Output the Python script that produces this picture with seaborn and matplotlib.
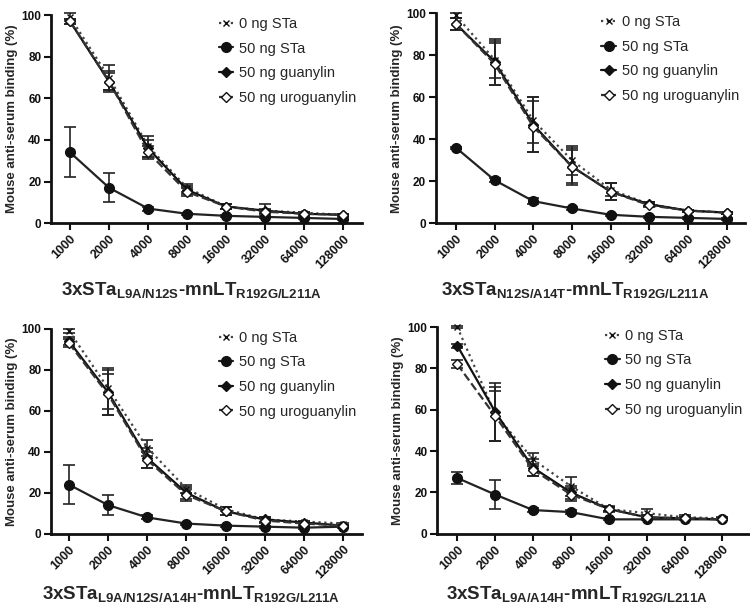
import numpy as np
import pandas as pd
import matplotlib
matplotlib.use('Agg')
import matplotlib.pyplot as plt
import seaborn as sns

sns.set_style('ticks')
plt.rcParams['font.family'] = ['Liberation Sans', 'DejaVu Sans']
plt.rcParams['mathtext.fontset'] = 'custom'
plt.rcParams['mathtext.bf'] = 'Liberation Sans:bold'
plt.rcParams['mathtext.rm'] = 'Liberation Sans:bold'
plt.rcParams['mathtext.default'] = 'bf'

dilutions = ['1000', '2000', '4000', '8000', '16000', '32000', '64000', '128000']
series = ['0 ng STa', '50 ng STa', '50 ng guanylin', '50 ng uroguanylin']

titles = [r'3xSTa$_{L9A/N12S}$-mnLT$_{R192G/L211A}$',
          r'3xSTa$_{N12S/A14T}$-mnLT$_{R192G/L211A}$',
          r'3xSTa$_{L9A/N12S/A14H}$-mnLT$_{R192G/L211A}$',
          r'3xSTa$_{L9A/A14H}$-mnLT$_{R192G/L211A}$']

# panel 1: L9A/N12S
p1_sta0 = [99, 70, 37, 17, 8, 6, 5, 4]
p1_sta0_err = [2, 6, 5, 2, 1, 1, 0.5, 0.5]
p1_sta50 = [34, 17, 7, 4.5, 3.5, 3, 2.5, 2]
p1_sta50_err = [12, 7, 1, 0.5, 0.5, 0.5, 0.5, 0.5]
p1_guan = [97, 68, 36, 16, 8, 6, 4.5, 4]
p1_guan_err = [1, 5, 4, 2, 1, 3, 1, 0.5]
p1_urog = [97, 68, 34, 15, 8, 5.5, 4.5, 4]
p1_urog_err = [1, 4, 3, 2, 1, 1, 0.5, 0.5]

# panel 2: N12S/A14T
p2_sta0 = [99, 78, 49, 30, 16, 9, 6, 5]
p2_sta0_err = [1, 9, 11, 7, 3, 1, 0.5, 0.5]
p2_sta50 = [36, 20.5, 10.5, 7, 4, 3, 2.5, 2]
p2_sta50_err = [0.5, 1, 1.5, 0.5, 0.5, 0.5, 0.5, 0.5]
p2_guan = [95, 77, 47, 27, 15, 9, 6, 5]
p2_guan_err = [3, 11, 13, 9, 4, 1, 0.5, 0.5]
p2_urog = [95, 76, 46, 27, 15, 8.5, 6, 5]
p2_urog_err = [3, 10, 12, 8, 4, 1, 0.5, 0.5]

# panel 3: L9A/N12S/A14H
p3_sta0 = [99, 71, 42, 22, 12, 7, 6, 5]
p3_sta0_err = [1, 10, 4, 2, 1, 1, 0.5, 0.5]
p3_sta50 = [24, 14, 8, 5, 4, 3.5, 3, 3.5]
p3_sta50_err = [9.5, 5, 1, 0.5, 0.5, 0.5, 0.5, 0.5]
p3_guan = [94, 69, 37, 20, 11, 7, 5.5, 4]
p3_guan_err = [2, 11, 5, 3, 2, 1, 1, 0.5]
p3_urog = [93, 68, 36, 19, 11, 6.5, 5, 4]
p3_urog_err = [2, 10, 4, 3, 2, 1, 1, 0.5]

# panel 4: L9A/A14H
p4_sta0 = [100, 58, 36, 23, 12, 10, 8, 7.5]
p4_sta0_err = [0.5, 13, 3, 4.5, 1.5, 2, 1, 0.5]
p4_sta50 = [27, 19, 11.5, 10.5, 7, 7, 7, 7]
p4_sta50_err = [3, 7, 1, 1, 0.5, 0.5, 0.5, 0.5]
p4_guan = [91, 59, 32, 20, 12, 8, 7.5, 7]
p4_guan_err = [1, 14, 4, 3, 1, 1, 0.5, 0.5]
p4_urog = [82, 57, 31, 19, 12, 8, 7.5, 7]
p4_urog_err = [2, 12, 3, 3, 1, 1, 0.5, 0.5]

panels = [
    ([p1_sta0, p1_sta50, p1_guan, p1_urog], [p1_sta0_err, p1_sta50_err, p1_guan_err, p1_urog_err]),
    ([p2_sta0, p2_sta50, p2_guan, p2_urog], [p2_sta0_err, p2_sta50_err, p2_guan_err, p2_urog_err]),
    ([p3_sta0, p3_sta50, p3_guan, p3_urog], [p3_sta0_err, p3_sta50_err, p3_guan_err, p3_urog_err]),
    ([p4_sta0, p4_sta50, p4_guan, p4_urog], [p4_sta0_err, p4_sta50_err, p4_guan_err, p4_urog_err]),
]

styles = {
    '0 ng STa': dict(linestyle=':', marker='x', markersize=5, markerfacecolor='#333333', color='#444444'),
    '50 ng STa': dict(linestyle='-', marker='o', markersize=7, markerfacecolor='#111111', color='#222222'),
    '50 ng guanylin': dict(linestyle='-', marker='D', markersize=5, markerfacecolor='#111111', color='#111111'),
    '50 ng uroguanylin': dict(linestyle='--', marker='D', markersize=5, markerfacecolor='white', color='#333333'),
}

positions = [
    [0.068, 0.633, 0.415, 0.342],
    [0.581, 0.633, 0.412, 0.345],
    [0.068, 0.122, 0.415, 0.337],
    [0.583, 0.122, 0.415, 0.340],
]
xlims = [(-0.49, 7.49), (-0.52, 7.47), (-0.46, 7.49), (-0.53, 7.69)]
xlabel_y = [-0.322, -0.319, -0.293, -0.290]

fig = plt.figure(figsize=(7.5, 6.08), dpi=100)
x = np.arange(len(dilutions))

for i, (vals, errs) in enumerate(panels):
    ax = fig.add_axes(positions[i])
    for name, v, e in zip(series, vals, errs):
        df = pd.DataFrame({'dilution': x, 'binding': v})
        st = styles[name]
        sns.lineplot(data=df, x='dilution', y='binding', ax=ax, label=name,
                     linewidth=1.6, markeredgecolor='#111111', markeredgewidth=1.0,
                     clip_on=False, zorder=3, **st)
        ax.errorbar(x, v, yerr=e, fmt='none', ecolor='#222222', elinewidth=1.2,
                    capsize=4, capthick=1.2, clip_on=False, zorder=2)
    ax.set_xlim(*xlims[i])
    ax.set_ylim(0, 100)
    ax.set_yticks([0, 20, 40, 60, 80, 100])
    ax.set_xticks(x)
    ax.set_xticklabels(dilutions, rotation=45, ha='right', rotation_mode='anchor',
                       fontsize=9, fontweight='bold')
    for lab in ax.get_yticklabels():
        lab.set_fontweight('bold')
        lab.set_fontsize(8.5)
    ax.set_ylabel('Mouse anti-serum binding (%)', fontsize=9.5, fontweight='bold', va='center')
    ax.yaxis.set_label_coords(-0.125, 0.5)
    ax.set_xlabel(titles[i], fontsize=13.5, fontweight='bold', va='center')
    ax.xaxis.set_label_coords(0.45, xlabel_y[i])
    sns.despine(ax=ax)
    for sp in ['left', 'bottom']:
        ax.spines[sp].set_linewidth(2)
        ax.spines[sp].set_color('#111111')
    ax.tick_params(width=1.5, length=5, pad=2, colors='#111111')
    ax.legend(loc='upper right', frameon=False, fontsize=10.5, handlelength=1.0,
              handletextpad=0.4, labelspacing=0.73, borderaxespad=0,
              bbox_to_anchor=(1.0, 1.02))

fig.savefig('out.png', dpi=100)
